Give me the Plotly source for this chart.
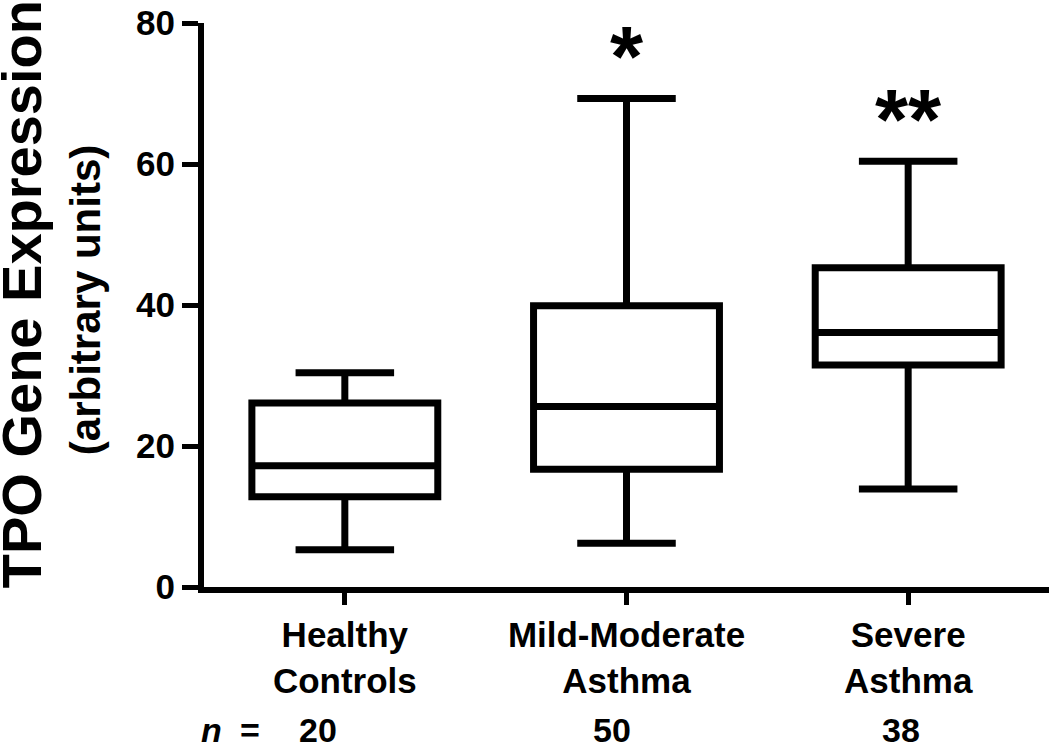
import plotly.graph_objects as go

# ---- data ----
categories = ["Healthy<br>Controls", "Mild-Moderate<br>Asthma", "Severe<br>Asthma"]
positions = [0, 1, 2]
q_min = [5.3, 6.2, 13.9]
q1 = [12.8, 16.7, 31.5]
median = [17.2, 25.6, 36.1]
q3 = [26.1, 39.9, 45.3]
q_max = [30.4, 69.3, 60.4]
significance = ["", "*", "**"]
n_counts = [20, 50, 38]
y_ticks = [0, 20, 40, 60, 80]

FONT = "Liberation Sans, Arial, sans-serif"
W, H = 1050, 747

fig = go.Figure()
fig.add_trace(go.Box(
    x=positions,
    q1=q1, median=median, q3=q3,
    lowerfence=q_min, upperfence=q_max,
    width=0.66,
    whiskerwidth=0.53,
    line=dict(color="black", width=7),
    fillcolor="rgba(0,0,0,0)",
    boxpoints=False,
    showlegend=False,
    hoverinfo="skip",
))

# significance stars
for p, s, top in zip(positions, significance, q_max):
    if s:
        fig.add_annotation(x=p, y=top, xref="x", yref="y", text=f"<b>{s}</b>",
                           showarrow=False, yanchor="middle", yshift=42,
                           font=dict(family=FONT, size=85, color="black"))

# n counts row
NY = (587 - 730) / 564
n_shifts = [-27, -15, -7]
for p, n, sh in zip(positions, n_counts, n_shifts):
    fig.add_annotation(x=p, y=NY, xref="x", yref="paper", text=f"<b>{n}</b>",
                       showarrow=False, yanchor="middle", xshift=sh,
                       font=dict(family=FONT, size=34, color="black"))
fig.add_annotation(x=(198 - 203) / 846, y=NY, xref="paper", yref="paper",
                   text="<b><i>n</i></b>", showarrow=False, yanchor="middle",
                   font=dict(family=FONT, size=34, color="black"))
fig.add_annotation(x=(237 - 203) / 846, y=NY, xref="paper", yref="paper",
                   text="<b>=</b>", showarrow=False, yanchor="middle",
                   font=dict(family=FONT, size=34, color="black"))

# y-axis titles (rotated)
fig.add_annotation(x=(20 - 203) / 846, y=(587 - 294) / 564, xref="paper", yref="paper",
                   text="<b>TPO Gene Expression</b>", textangle=-90, showarrow=False,
                   xanchor="center", yanchor="middle",
                   font=dict(family=FONT, size=56, color="black"))
fig.add_annotation(x=(84 - 203) / 846, y=(587 - 300) / 564, xref="paper", yref="paper",
                   text="<b>(arbitrary units)</b>", textangle=-90, showarrow=False,
                   xanchor="center", yanchor="middle",
                   font=dict(family=FONT, size=42, color="black"))

fig.update_layout(
    width=W, height=H,
    margin=dict(l=204, r=1, t=23, b=160),
    paper_bgcolor="white", plot_bgcolor="white",
    font=dict(family=FONT, color="black"),
)
fig.update_xaxes(
    range=[-0.5, 2.5], tickvals=positions,
    ticktext=[f"<b>{c}</b>" for c in categories],
    tickfont=dict(family=FONT, size=35, color="black"),
    showline=True, linewidth=6, linecolor="black",
    ticks="outside", ticklen=12, tickwidth=5, tickcolor="black",
    showgrid=False, zeroline=False, ticklabeloverflow="allow",
)
fig.update_yaxes(
    range=[0, 80], tickvals=y_ticks,
    ticktext=[f"<b>{t}</b>" for t in y_ticks],
    tickfont=dict(family=FONT, size=35, color="black"),
    showline=True, linewidth=6, linecolor="black",
    ticks="outside", ticklen=16, tickwidth=5, tickcolor="black",
    showgrid=False, zeroline=False, ticklabeloverflow="allow",
)

# remove the browser's default 8px body margin so the figure fills the window
fig.write_html("out.html",
               config={"displayModeBar": False},
               post_script="document.body.style.margin='0';document.body.style.overflow='hidden';")
